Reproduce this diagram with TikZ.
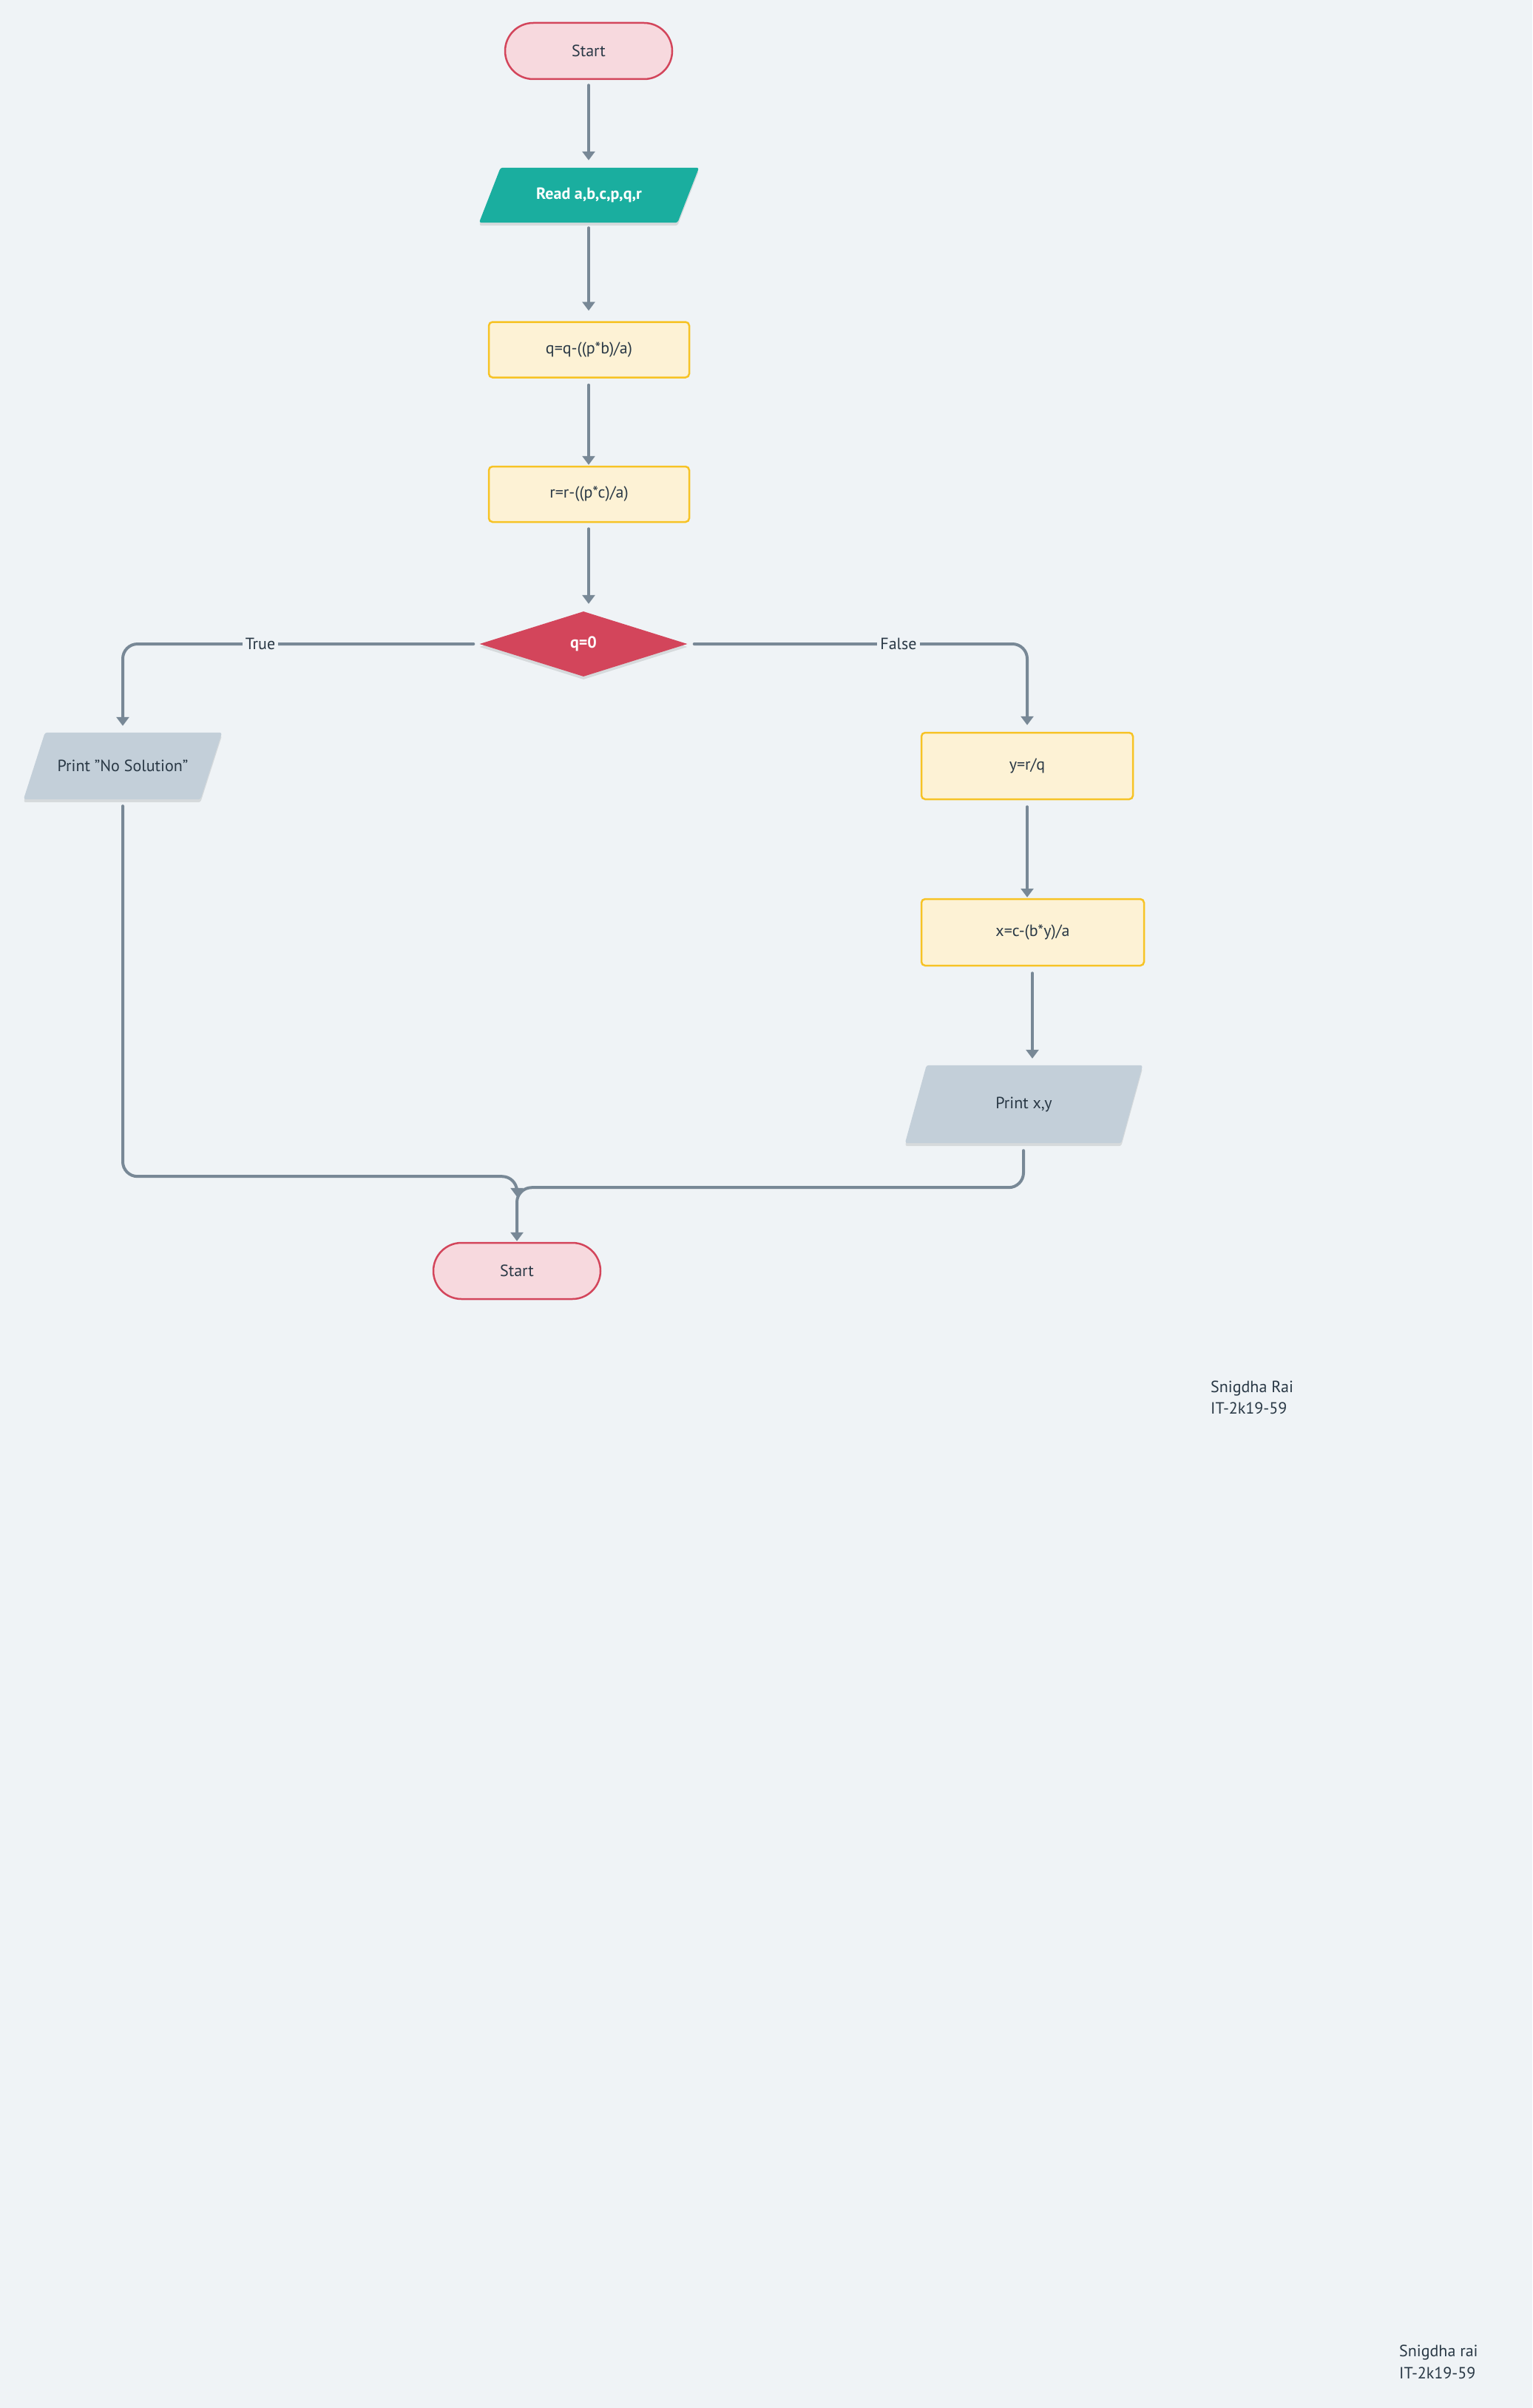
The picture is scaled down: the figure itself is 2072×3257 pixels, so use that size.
\documentclass[tikz,border=0pt]{standalone}
\usepackage{fontspec}
\setmainfont{PT Sans}
\usetikzlibrary{arrows.meta,shapes.geometric,shadows,calc}

\definecolor{canvas}{HTML}{EFF3F6}
\definecolor{ink}{HTML}{293845}
\definecolor{wire}{HTML}{788896}
\definecolor{termfill}{HTML}{F7D9DE}
\definecolor{termline}{HTML}{D3455B}
\definecolor{teal}{HTML}{1AAE9F}
\definecolor{procfill}{HTML}{FDF2D5}
\definecolor{procline}{HTML}{F7C325}
\definecolor{decfill}{HTML}{D3455B}
\definecolor{iofill}{HTML}{C3CFD9}

\pgfdeclarelayer{paper}
\pgfdeclarelayer{shapes}
\pgfsetlayers{paper,shapes,main}

% slanted input/output box drawn behind a named rectangle node
\newcommand\slantfill[2]{%
  \begin{pgfonlayer}{shapes}
    \fill[#2, rounded corners=3pt, softshadow]
      ($(#1.north west)+(29,0)$) -- (#1.north east) --
      ($(#1.south east)+(-29,0)$) -- (#1.south west) -- cycle;
  \end{pgfonlayer}}

\tikzset{
  softshadow/.style={drop shadow={shadow xshift=0pt, shadow yshift=-4pt, opacity=0.10, fill=black}},
  basebox/.style={inner sep=0pt, text=ink, align=center},
  terminal/.style={basebox, rectangle, rounded corners=38pt, draw=termline, fill=termfill,
    line width=2.5pt, minimum width=226pt, minimum height=76pt},
  process/.style={basebox, rectangle, rounded corners=5pt, draw=procline, fill=procfill,
    line width=2.5pt, minimum height=75pt},
  iobox/.style={basebox, rectangle, minimum height=90pt},
  decision/.style={basebox, diamond, fill=decfill, text=white, font=\fontsize{22}{26}\selectfont\bfseries,
    minimum width=281pt, minimum height=88pt, softshadow},
  conn/.style={draw=wire, line width=4pt, line cap=round, rounded corners=20pt,
    -{Triangle[width=17pt,length=12pt]}},
  lbl/.style={fill=canvas, text=ink, inner xsep=4pt, inner ysep=3pt},
  signature/.style={anchor=base west, text=ink, inner sep=0pt}
}

\begin{document}
\begin{tikzpicture}[x=1pt, y=-1pt, font=\fontsize{22}{26}\selectfont]
  \begin{pgfonlayer}{paper}
    \fill[canvas] (0,0) rectangle (2072,3257);
  \end{pgfonlayer}
  \useasboundingbox (0,0) rectangle (2072,3257);

  % main column
  \node[terminal] (start) at (796,69) {Start};
  \node[iobox, minimum width=297pt, minimum height=74pt, text=white,
        font=\fontsize{22}{26}\selectfont\bfseries] (read) at (796.5,264) {Read a,b,c,p,q,r};
  \slantfill{read}{teal}
  \node[process, minimum width=271pt] (qbox) at (796.5,473) {q=q-((p*b)/a)};
  \node[process, minimum width=271pt] (rbox) at (796.5,668.5) {r=r-((p*c)/a)};
  \node[decision] (dec) at (789,871) {q=0};

  % true branch
  \node[iobox, minimum width=268pt] (nosol) at (166,1036) {Print "No Solution"};
  \slantfill{nosol}{iofill}

  % false branch
  \node[process, minimum width=286pt, minimum height=90pt] (ybox) at (1389,1036) {y=r/q};
  \node[process, minimum width=301pt, minimum height=90pt] (xbox) at (1396.5,1261) {x=c-(b*y)/a};
  \node[iobox, minimum width=321pt, minimum height=105pt] (printxy) at (1384.5,1493.5) {Print x,y};
  \slantfill{printxy}{iofill}

  % end
  \node[terminal] (endn) at (699,1719) {Start};

  % connectors
  \draw[conn] ($(start.south)+(0,7)$) -- ($(start.south |- read.north)+(0,-10)$);
  \draw[conn] ($(start.south |- read.south)+(0,7)$) -- ($(start.south |- qbox.north)+(0,-14)$);
  \draw[conn] ($(start.south |- qbox.south)+(0,9)$) -- ($(start.south |- rbox.north)+(0,-1)$);
  \draw[conn] ($(start.south |- rbox.south)+(0,8)$) -- ($(start.south |- dec.north)+(0,-10)$);

  \draw[conn] ($(dec.west)+(-8,0)$) -- (nosol.north |- dec.west) -- ($(nosol.north)+(0,-9)$);
  \node[lbl] (truelbl) at (352,871) {True};

  \draw[conn] ($(dec.east)+(9,0)$) -- (ybox.north |- dec.east) -- ($(ybox.north)+(0,-9)$);
  \node[lbl] (falselbl) at (1215,871) {False};

  \draw[conn] ($(ybox.south)+(0,9)$) -- ($(ybox.south |- xbox.north)+(0,-1)$);
  \draw[conn] ($(xbox.south)+(-0.5,9)$) -- ($(xbox.south |- printxy.north)+(-0.5,-9)$);

  \draw[conn] ($(nosol.south)+(0,9)$) -- ($(nosol.south)+(0,510)$) -| ($(endn.north)+(0,-61)$);
  \draw[conn] ($(printxy.south)+(-0.5,10)$) -- ($(printxy.south)+(-0.5,60)$) -| ($(endn.north)+(0,-1)$);

  % signatures
  \node[signature] (sig1a) at (1637,1883) {Snigdha Rai};
  \node[signature] (sig1b) at (1637,1912) {IT-2k19-59};
  \node[signature] (sig2a) at (1892,3187) {Snigdha rai};
  \node[signature] (sig2b) at (1892,3217) {IT-2k19-59};
\end{tikzpicture}
\end{document}
